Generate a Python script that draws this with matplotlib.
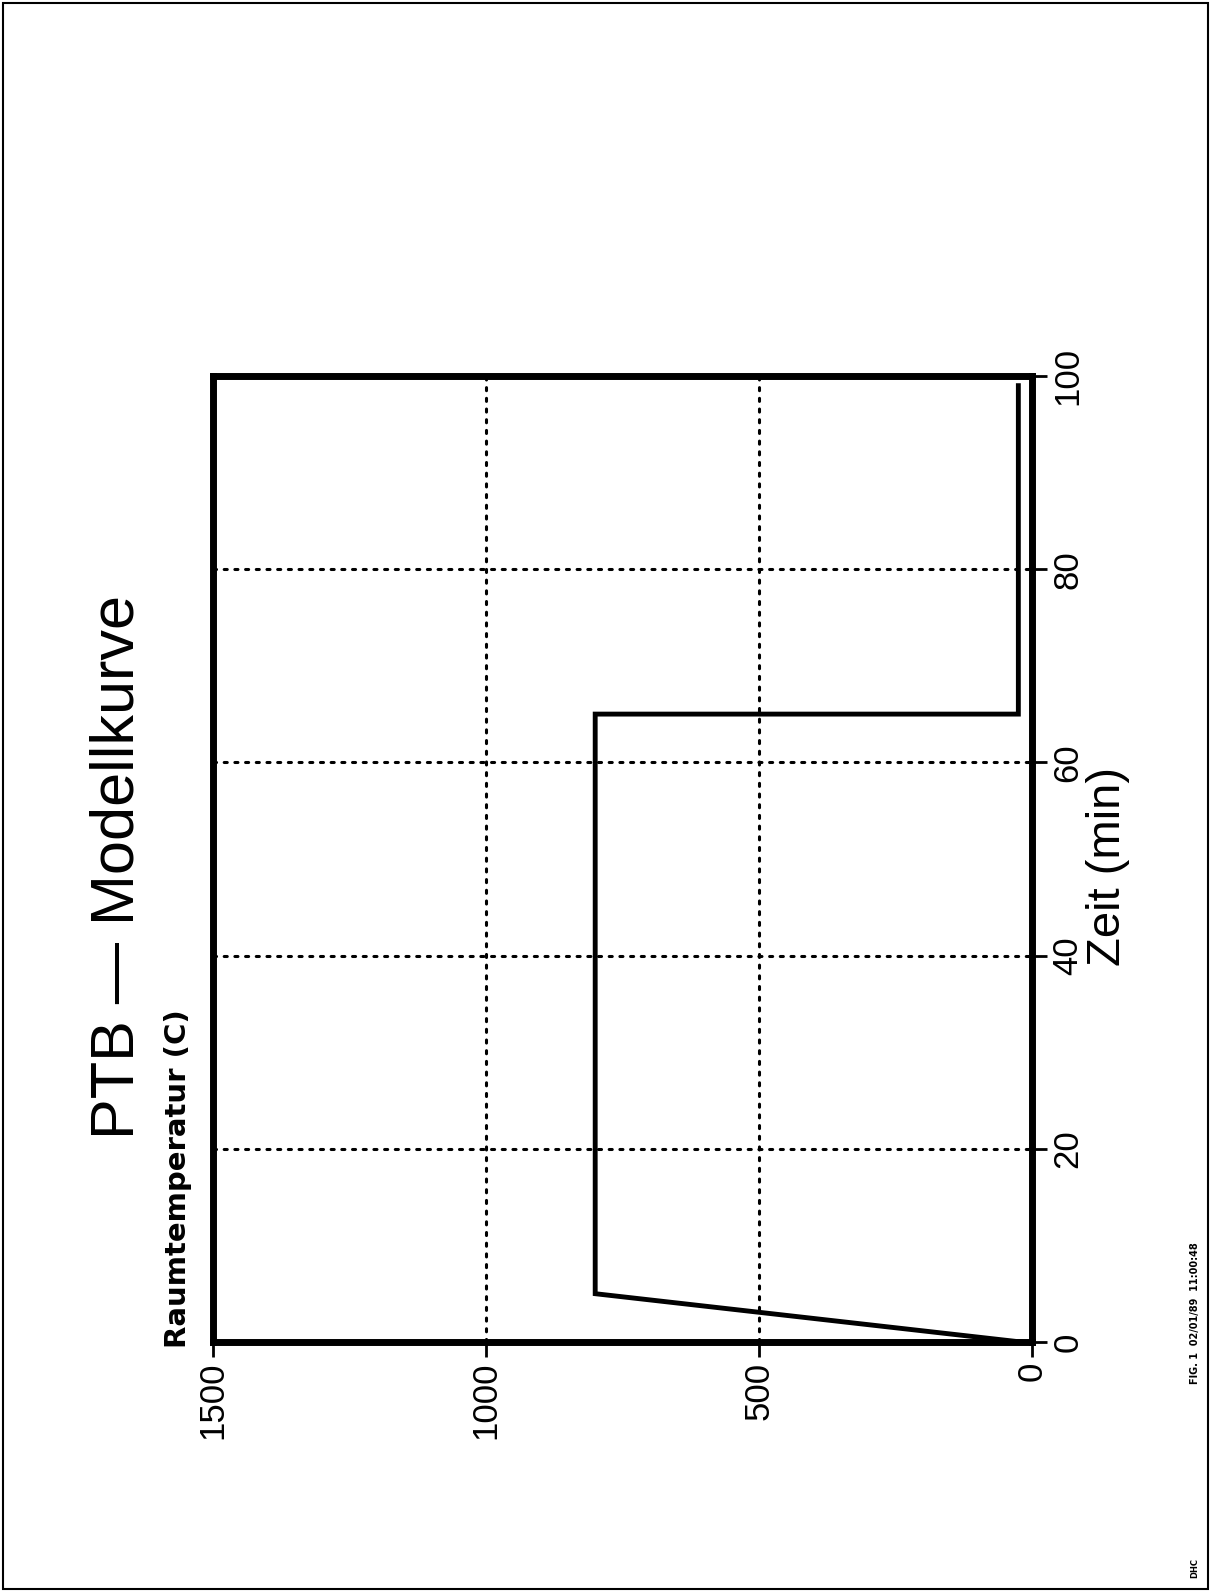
import matplotlib
matplotlib.use('Agg')
import matplotlib.pyplot as plt
from matplotlib.patches import Rectangle

# ---- data ----
time_min = [0, 5, 65, 65, 99]
temp_c = [20, 800, 800, 25, 25]
time_ticks = [0, 20, 40, 60, 80, 100]
temp_ticks = [1500, 1000, 500, 0]
title = "PTB — Modellkurve"
xlabel = "Zeit (min)"
ylabel = "Raumtemperatur (C)"
footer = "FIG. 1  02/01/89  11:00:48"
stamp = "DHC"

font = 'Liberation Sans'

W, H = 1216, 1591
fig = plt.figure(figsize=(W / 100, H / 100), dpi=100)
fig.patch.set_facecolor('white')

L, R, T, B = 213, 1032, 376, 1342
ax = fig.add_axes([L / W, 1 - B / H, (R - L) / W, (B - T) / H])
ax.plot(temp_c, time_min, color='black', lw=3.5, solid_joinstyle='miter', zorder=3)
ax.set_xlim(1500, 0)
ax.set_ylim(0, 100)
ax.set_xticks(temp_ticks)
ax.set_xticklabels([str(t) for t in temp_ticks], rotation=90, fontsize=25, family=font)
ax.yaxis.tick_right()
ax.set_yticks(time_ticks)
ax.set_yticklabels([str(t) for t in time_ticks], rotation=90, fontsize=25, family=font,
                   va='center')
ax.tick_params(direction='out', length=11, width=2, pad=3, colors='black')
ax.grid(True, color='black', lw=2.2, linestyle=(0, (1, 2.5)), dash_capstyle='round')
for s in ax.spines.values():
    s.set_linewidth(5)
    s.set_color('black')

fig.text(118 / W, 1 - 867 / H, title, rotation=90, ha='center', va='center',
         fontsize=44, family=font)
fig.text(1108 / W, 1 - 866 / H, xlabel, rotation=90, ha='center', va='center',
         fontsize=34, family=font)
fig.text(178 / W, 1 - 1348 / H, ylabel, rotation=90, ha='center', va='bottom',
         fontsize=21, family='DejaVu Sans', fontweight='bold')
fig.text(1195 / W, 1 - 1313 / H, footer, rotation=90, ha='center', va='center',
         fontsize=7, family='DejaVu Sans', fontweight='bold')
fig.text(1195 / W, 1 - 1568 / H, stamp, rotation=90, ha='center', va='center',
         fontsize=6, family='DejaVu Sans', fontweight='bold')

fig.add_artist(Rectangle((3 / W, 2 / H), (1208 - 3) / W, (1588 - 2) / H,
                         transform=fig.transFigure, fill=False, lw=1.5, color='black'))

fig.savefig('out.png', dpi=100, facecolor='white')
